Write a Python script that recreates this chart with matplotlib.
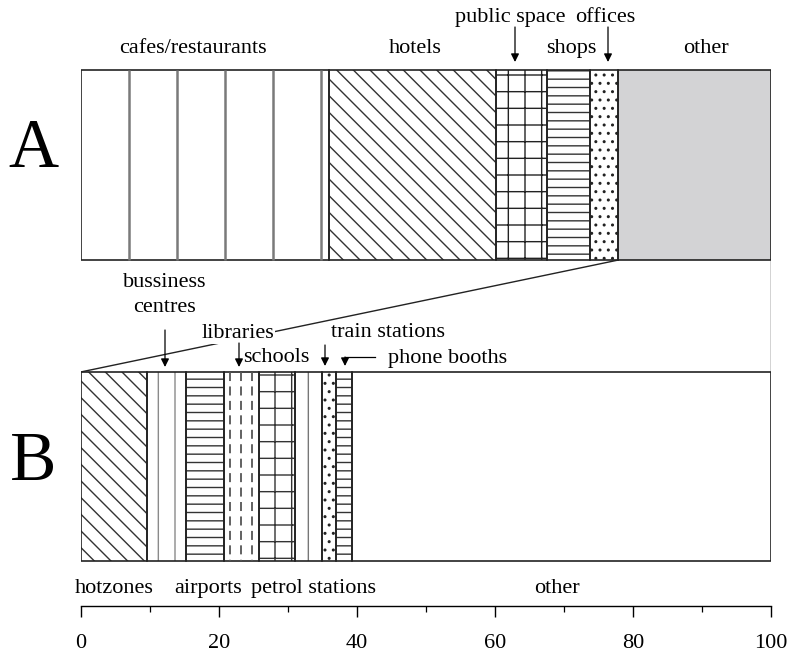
import numpy as np
import matplotlib
matplotlib.use('Agg')
import matplotlib.pyplot as plt

plt.rcParams['font.family'] = ['Liberation Serif', 'DejaVu Serif']
plt.rcParams['hatch.linewidth'] = 1.0

# ---- data -------------------------------------------------------------
catsA = ['cafes/restaurants', 'hotels', 'public space', 'shops', 'offices', 'other']
valsA = [36.0, 24.1, 7.5, 6.2, 4.1, 22.1]

catsB = ['hotzones', 'bussiness centres', 'airports', 'libraries', 'schools',
         'petrol stations', 'train stations', 'phone booths', 'other']
valsB = [9.6, 5.7, 5.5, 5.1, 5.1, 3.9, 2.1, 2.3, 60.7]

xticks_major = [0, 20, 40, 60, 80, 100]
xticks_minor = [10, 30, 50, 70, 90]

# ---- styles -----------------------------------------------------------
hatchA = ['', '\\\\', '+', '--', '..', '']
hcolA = ['white', '#333333', '#222222', '#333333', '#222222', '#d3d3d5']
fillA = ['white', 'white', 'white', 'white', 'white', '#d3d3d5']

hatchB = ['\\\\', '|', '--', '', '+', '|', '..', '--', '']
hcolB = ['#333333', '#8a8a8a', '#333333', 'white', '#333333', '#777777',
         '#222222', '#333333', 'white']

W, H = 788, 653
fig = plt.figure(figsize=(W / 100, H / 100), dpi=100)

x0, x1 = 80.7, 771.0   # pixel positions of 0 and 100
ax = fig.add_axes([x0 / W, 0, (x1 - x0) / W, 1])
ax.set_xlim(0, 100)
ax.set_ylim(H, 0)
ax.axis('off')

yA, hA = 165, 190
yB, hB = 466.5, 189

leftA = np.concatenate([[0], np.cumsum(valsA)[:-1]])
leftB = np.concatenate([[0], np.cumsum(valsB)[:-1]])

ax.barh(yA, valsA, left=leftA, height=hA, color=fillA, edgecolor=hcolA,
        linewidth=0, hatch=hatchA)
ax.barh(yB, valsB, left=leftB, height=hB, color='white', edgecolor=hcolB,
        linewidth=0, hatch=hatchB)

# cafes: wide gray vertical lines
step = 6.95
ax.vlines(np.arange(step, valsA[0], step), yA - hA / 2, yA + hA / 2,
          color='#7a7a7a', lw=1.8)
# libraries: dashed vertical lines
lib_l = leftB[3]
ax.vlines(np.arange(lib_l + 0.8, lib_l + valsB[3], 1.6), yB - hB / 2, yB + hB / 2,
          color='#555555', lw=1.3, linestyles=(0, (5, 3)))

ax.barh(yA, valsA, left=leftA, height=hA, fill=False, edgecolor='#222222', linewidth=1.2)
ax.barh(yB, valsB, left=leftB, height=hB, fill=False, edgecolor='#222222', linewidth=1.2)

# zoom lines from "other" of A to B
other_start = leftA[-1]
ax.plot([other_start, 0], [yA + hA / 2, yB - hB / 2], color='#222222', lw=1.0)
ax.plot([100, 100], [yA + hA / 2, yB - hB / 2], color='#222222', lw=1.0)

# ---- text overlay (pixel coordinates) ---------------------------------
at = fig.add_axes([0, 0, 1, 1])
at.set_xlim(0, W)
at.set_ylim(H, 0)
at.axis('off')
at.patch.set_alpha(0)

fs = 16
at.text(33, 150, 'A', fontsize=50, ha='center', va='center')
at.text(33, 463, 'B', fontsize=50, ha='center', va='center')

labels = [
    ('cafes/restaurants', 193, 53), ('hotels', 415, 53), ('shops', 571, 53),
    ('other', 706, 53), ('public space', 510, 22), ('offices', 605, 22),
    ('bussiness', 165, 287), ('centres', 165, 312), ('train stations', 388, 337),
    ('schools', 276, 362), ('phone booths', 448, 363),
    ('hotzones', 114, 593), ('airports', 208, 593), ('petrol stations', 314, 593),
    ('other', 557, 593),
]
for s, x, y in labels:
    at.text(x, y, s, fontsize=fs, ha='center', va='baseline')

at.text(238, 338, 'libraries', fontsize=fs, ha='center', va='baseline',
        bbox=dict(facecolor='white', edgecolor='none', pad=0.5))

arrows = [(515, 27, 62), (608, 27, 62), (165, 330, 367), (239, 343, 367),
          (325, 345, 366), (345, 357, 366)]
for x, ys, ye in arrows:
    at.annotate('', xy=(x, ye), xytext=(x, ys),
                arrowprops=dict(arrowstyle='-|>', lw=0.9, color='k',
                                mutation_scale=12, shrinkA=0, shrinkB=0))
at.plot([345, 375], [357, 357], color='k', lw=0.9)

# ---- bottom scale -----------------------------------------------------
ay = 606
ax2 = fig.add_axes([x0 / W, (H - ay) / H, (x1 - x0) / W, 0.0001])
ax2.set_xlim(0, 100)
for s in ['top', 'left', 'right']:
    ax2.spines[s].set_visible(False)
ax2.spines['bottom'].set_linewidth(1.0)
ax2.set_yticks([])
ax2.set_xticks(xticks_major)
ax2.set_xticks(xticks_minor, minor=True)
ax2.tick_params(axis='x', which='major', direction='out', length=8, width=1.0,
                labelsize=16, pad=12)
ax2.tick_params(axis='x', which='minor', direction='out', length=4.5, width=0.9)

fig.savefig('out.png', dpi=100)
